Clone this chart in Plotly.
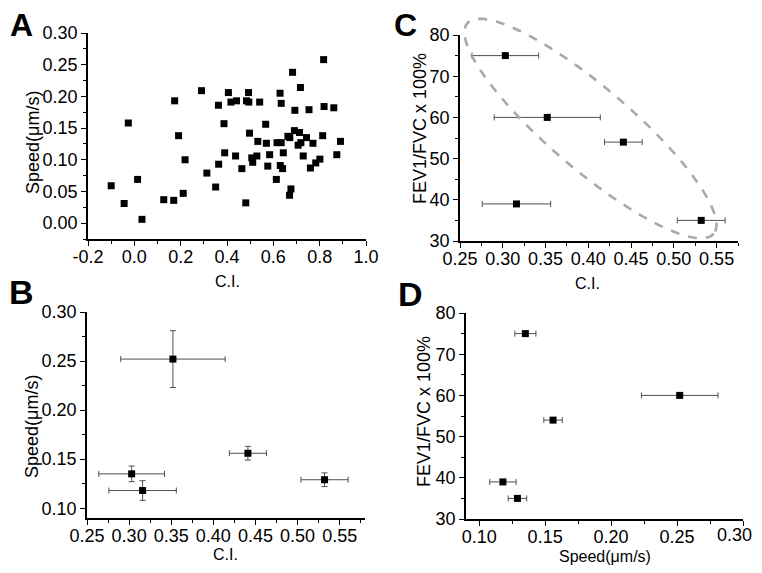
import numpy as np
import plotly.graph_objects as go

# window is 762x573; page body has an 8px margin, so the figure is 16px smaller
WIN_W, WIN_H = 762, 573
OFF = 8
W, H = WIN_W - 2 * OFF, WIN_H - 2 * OFF

# ---------------- data ----------------
# Panel A: individual cells (C.I. vs speed)
a_ci = [-0.10, -0.044, -0.026, 0.014, 0.033, 0.127, 0.170, 0.174, 0.191, 0.211, 0.219,
        0.290, 0.313, 0.351, 0.363, 0.364, 0.387, 0.390, 0.406, 0.417, 0.437, 0.441,
        0.464, 0.481, 0.484, 0.493, 0.494, 0.497, 0.507, 0.511, 0.529, 0.533, 0.541,
        0.567, 0.570, 0.576, 0.584, 0.613, 0.616, 0.629, 0.630, 0.634, 0.634, 0.640,
        0.643, 0.663, 0.671, 0.670, 0.676, 0.683, 0.691, 0.693, 0.707, 0.713, 0.717,
        0.719, 0.729, 0.743, 0.754, 0.760, 0.771, 0.783, 0.801, 0.813, 0.817, 0.819,
        0.861, 0.874, 0.890]
a_speed = [0.059, 0.031, 0.158, 0.069, 0.006, 0.037, 0.036, 0.193, 0.138, 0.047, 0.100,
           0.209, 0.079, 0.057, 0.186, 0.093, 0.157, 0.111, 0.206, 0.191, 0.106, 0.193,
           0.086, 0.032, 0.193, 0.206, 0.191, 0.142, 0.103, 0.096, 0.106, 0.129, 0.191,
           0.156, 0.126, 0.090, 0.108, 0.069, 0.127, 0.205, 0.091, 0.127, 0.189, 0.086,
           0.111, 0.137, 0.135, 0.044, 0.054, 0.238, 0.146, 0.178, 0.123, 0.143, 0.214,
           0.127, 0.106, 0.135, 0.179, 0.087, 0.126, 0.095, 0.101, 0.138, 0.258, 0.184,
           0.182, 0.108, 0.129]

# Panels B-D: patient means
ci = [0.303, 0.352, 0.441, 0.316, 0.532]
ci_err = [0.039, 0.062, 0.022, 0.040, 0.028]
speed = [0.135, 0.252, 0.156, 0.118, 0.129]
speed_err = [0.008, 0.029, 0.007, 0.010, 0.007]
fev = [75, 60, 54, 39, 35]

# tick labels
a_x_ticks = [-0.2, 0.0, 0.2, 0.4, 0.6, 0.8, 1.0]
a_x_text = ["-0.2", "0.0", "0.2", "0.4", "0.6", "0.8", "1.0"]
d_x_ticks = [0.10, 0.15, 0.20, 0.25, 0.30]
d_x_text = ["0.10", "0.15", "0.20", "0.25", ""]   # last label drawn separately
d_x_last = "0.30"

# ---------------- layout geometry (window pixels) ----------------
# name: (left, right, top, bottom, xrange, yrange)
panels = {
    "A": (88, 366, 33, 239, [-0.2, 1.0], [-0.025, 0.30]),
    "B": (87, 365, 312, 518, [0.25, 0.58], [0.09, 0.30]),
    "C": (460, 738, 35, 241, [0.25, 0.575], [30, 80]),
    "D": (466, 743, 313, 519, [0.09, 0.30], [30, 80]),
}

FONT = "Arial, Liberation Sans, sans-serif"
TICK_SIZE = 18

def px2paper(x, y):
    return (x - OFF) / W, 1 - (y - OFF) / H

def dom(p):
    l, r, t, b = p[:4]
    x0, y0 = px2paper(l, b)
    x1, y1 = px2paper(r, t)
    return [x0, x1], [y0, y1]

def axis_common(rng, dom_, anchor, dtick, minor_dtick, fmt, is_x):
    d = dict(
        domain=dom_, range=rng, anchor=anchor, autorange=False,
        showline=True, linecolor="black", linewidth=1.6, mirror=False,
        showgrid=False, zeroline=False,
        ticks="outside", ticklen=5, tickwidth=1.3, tickcolor="black",
        dtick=dtick, tick0=0, tickformat=fmt,
        tickfont=dict(family=FONT, size=TICK_SIZE, color="black"),
        minor=dict(dtick=minor_dtick, ticks="outside", ticklen=3, tickwidth=1.1,
                   tickcolor="black", showgrid=False),
    )
    if is_x:
        d["ticklabelstandoff"] = -4
    return d

fig = go.Figure()

mk = dict(symbol="square", size=7, color="black")
ebc = "#505050"

# A
fig.add_trace(go.Scatter(x=a_ci, y=a_speed, mode="markers", marker=mk,
                         xaxis="x", yaxis="y", showlegend=False))
# B
fig.add_trace(go.Scatter(x=ci, y=speed, mode="markers", marker=mk,
                         error_x=dict(type="data", array=ci_err, color=ebc, thickness=1, width=3),
                         error_y=dict(type="data", array=speed_err, color=ebc, thickness=1, width=3),
                         xaxis="x2", yaxis="y2", showlegend=False))
# C
fig.add_trace(go.Scatter(x=ci, y=fev, mode="markers", marker=mk,
                         error_x=dict(type="data", array=ci_err, color=ebc, thickness=1, width=3),
                         xaxis="x3", yaxis="y3", showlegend=False))
# D
fig.add_trace(go.Scatter(x=speed, y=fev, mode="markers", marker=mk,
                         error_x=dict(type="data", array=speed_err, color=ebc, thickness=1, width=3),
                         xaxis="x4", yaxis="y4", showlegend=False))

layout = dict(width=W, height=H, margin=dict(l=0, r=0, t=0, b=0, autoexpand=False),
              paper_bgcolor="white", plot_bgcolor="white",
              font=dict(family=FONT, color="black"))

xa, ya = dom(panels["A"])
layout["xaxis"] = axis_common(panels["A"][4], xa, "y", 0.2, 0.1, ".1f", True)
layout["xaxis"].update(tickmode="array", tickvals=a_x_ticks, ticktext=a_x_text)
layout["yaxis"] = axis_common(panels["A"][5], ya, "x", 0.05, 0.025, ".2f", False)

xb, yb = dom(panels["B"])
layout["xaxis2"] = axis_common(panels["B"][4], xb, "y2", 0.05, 0.025, ".2f", True)
layout["yaxis2"] = axis_common(panels["B"][5], yb, "x2", 0.05, 0.025, ".2f", False)

xc, yc = dom(panels["C"])
layout["xaxis3"] = axis_common(panels["C"][4], xc, "y3", 0.05, 0.025, ".2f", True)
layout["yaxis3"] = axis_common(panels["C"][5], yc, "x3", 10, 5, "d", False)

xd, yd = dom(panels["D"])
layout["xaxis4"] = axis_common(panels["D"][4], xd, "y4", 0.05, 0.025, ".2f", True)
layout["xaxis4"].update(tickmode="array", tickvals=d_x_ticks, ticktext=d_x_text)
layout["yaxis4"] = axis_common(panels["D"][5], yd, "x4", 10, 5, "d", False)

fig.update_layout(**layout)

# last tick label of D's x axis sits at the right window edge
fig.add_annotation(text=d_x_last, x=1.0, xref="paper", xanchor="right",
                   y=px2paper(0, 535)[1], yref="paper", yanchor="middle",
                   showarrow=False, font=dict(family=FONT, size=TICK_SIZE, color="black"))

# ---------------- dashed ellipse in panel C ----------------
pl, pr, pt, pb, xr, yr = panels["C"]
def data_to_px(x, y):
    px = pl + (x - xr[0]) / (xr[1] - xr[0]) * (pr - pl)
    py = pb - (y - yr[0]) / (yr[1] - yr[0]) * (pb - pt)
    return px, py

ell_center = (0.4025, 57.3)     # in C data units
ell_a, ell_b, ell_ang = 162, 41, 40.5   # semi-axes in px, angle (deg, screen)
cx, cy = data_to_px(*ell_center)
t = np.linspace(0, 2 * np.pi, 121)
th = np.deg2rad(ell_ang)
ex = cx + ell_a * np.cos(t) * np.cos(th) - ell_b * np.sin(t) * np.sin(th)
ey = cy + ell_a * np.cos(t) * np.sin(th) + ell_b * np.sin(t) * np.cos(th)
pts = [px2paper(x, y) for x, y in zip(ex, ey)]
path = "M " + " L ".join(f"{x:.5f},{y:.5f}" for x, y in pts) + " Z"
fig.add_shape(type="path", path=path, xref="paper", yref="paper",
              line=dict(color="#a9a9a9", width=2.6, dash="dash"), layer="above")

# ---------------- labels ----------------
def ann(text, x, y, size=17, angle=0, bold=False):
    px, py = px2paper(x, y)
    fig.add_annotation(text=f"<b>{text}</b>" if bold else text,
                       x=px, y=py, xref="paper", yref="paper",
                       showarrow=False, textangle=angle, xanchor="center", yanchor="middle",
                       font=dict(family=FONT, size=size, color="black"))

ann("A", 21, 25, size=32, bold=True)
ann("B", 21, 292, size=34, bold=True)
ann("C", 405, 25, size=32, bold=True)
ann("D", 410, 294, size=34, bold=True)

ann("C.I.", 228, 281, size=16)
ann("C.I.", 226, 554, size=16)
ann("C.I.", 587, 284, size=16)
ann("Speed(μm/s)", 605, 556, size=16)

ann("Speed(μm/s)", 33, 143, size=18, angle=-90)
ann("Speed(μm/s)", 32, 427, size=18, angle=-90)
ann("FEV1/FVC x 100%", 420, 129, size=18, angle=-90)
ann("FEV1/FVC x 100%", 424, 412, size=18, angle=-90)

fig.write_html("out.html")
